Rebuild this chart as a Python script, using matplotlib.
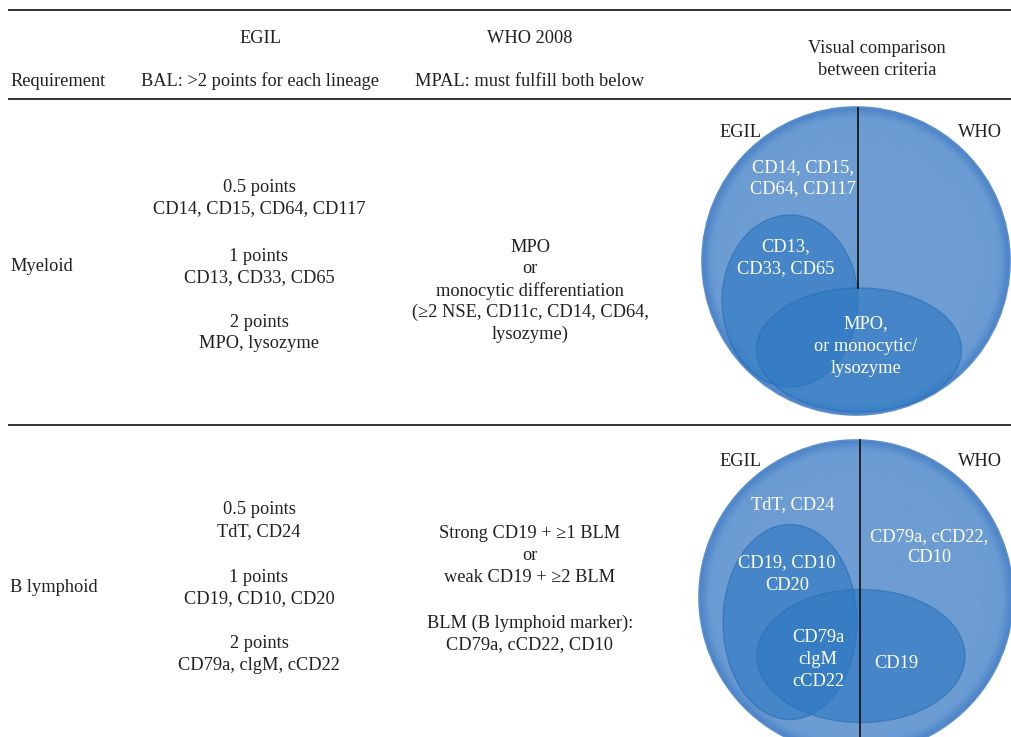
import numpy as np
import matplotlib
matplotlib.use("Agg")
import matplotlib.pyplot as plt
from matplotlib.patches import Circle, Ellipse
from matplotlib.colors import LinearSegmentedColormap

plt.rcParams['font.family'] = ['Liberation Serif', 'DejaVu Serif']

# table text
header_top = ["EGIL", "WHO 2008"]
header_bottom = ["Requirement", "BAL: >2 points for each lineage", "MPAL: must fulfill both below"]
header_visual = ["Visual comparison", "between criteria"]

rows = ["Myeloid", "B lymphoid"]

egil_myeloid = [["0.5 points", "CD14, CD15, CD64, CD117"],
                ["1 points", "CD13, CD33, CD65"],
                ["2 points", "MPO, lysozyme"]]
who_myeloid = ["MPO", "or", "monocytic differentiation",
               "(\u22652 NSE, CD11c, CD14, CD64,", "lysozyme)"]

egil_lymph = [["0.5 points", "TdT, CD24"],
              ["1 points", "CD19, CD10, CD20"],
              ["2 points", "CD79a, clgM, cCD22"]]
who_lymph = [["Strong CD19 + \u22651 BLM", "or", "weak CD19 + \u22652 BLM"],
             ["BLM (B lymphoid marker):", "CD79a, cCD22, CD10"]]

# labels inside the circles
venn_myeloid = {"egil_outer": ["CD14, CD15,", "CD64, CD117"],
                "egil_inner": ["CD13,", "CD33, CD65"],
                "shared": ["MPO,", "or monocytic/", "lysozyme"]}
venn_lymph = {"egil_outer": ["TdT, CD24"],
              "who_outer": ["CD79a, cCD22,", "CD10"],
              "egil_inner": ["CD19, CD10", "CD20"],
              "shared": ["CD79a", "clgM", "cCD22"],
              "who_inner": ["CD19"]}

W, H = 1012, 737
fig = plt.figure(figsize=(W / 100, H / 100), dpi=100)
ax = fig.add_axes([0, 0, 1, 1])
ax.set_xlim(0, W)
ax.set_ylim(H, 0)
ax.axis('off')

txt = '#231f20'
fs = 13.2


def lines(x, y0, items, dy=21.5, **kw):
    for i, s in enumerate(items):
        ax.text(x, y0 + i * dy, s, ha='center', va='center', fontsize=fs, color=kw.get('color', txt))


# rules
for y in [10, 99, 425]:
    ax.plot([8, W], [y, y], color='#333333', lw=1.4, solid_capstyle='butt')

# header
ax.text(260, 38, header_top[0], ha='center', va='center', fontsize=fs, color=txt)
ax.text(530, 38, header_top[1], ha='center', va='center', fontsize=fs, color=txt)
ax.text(10, 81, header_bottom[0], ha='left', va='center', fontsize=fs, color=txt)
ax.text(260, 81, header_bottom[1], ha='center', va='center', fontsize=fs, color=txt)
ax.text(530, 81, header_bottom[2], ha='center', va='center', fontsize=fs, color=txt)
lines(877, 48, header_visual, dy=22)

# myeloid row
ax.text(10, 266, rows[0], ha='left', va='center', fontsize=fs, color=txt)
for y0, grp in zip([187, 256, 322], egil_myeloid):
    lines(259, y0, grp)
lines(530, 247, who_myeloid, dy=21.8)

# lymphoid row
ax.text(10, 588, rows[1], ha='left', va='center', fontsize=fs, color=txt)
for y0, grp in zip([510, 577, 644], egil_lymph):
    lines(259, y0, grp)
lines(530, 533, who_lymph[0], dy=22.5)
lines(530, 623, who_lymph[1], dy=21.5)

# venn style circles
cmap = LinearSegmentedColormap.from_list('rim', ['#6d9dd3', '#699bd2', '#4a82c8'])


def outer_circle(cx, cy, r):
    c = Circle((cx, cy), r, facecolor='none', edgecolor='#5a8fcd', lw=1.2, zorder=3)
    ax.add_patch(c)
    xs = np.linspace(cx - r, cx + r, 400)
    ys = np.linspace(cy - r, cy + r, 400)
    X, Y = np.meshgrid(xs, ys)
    d = np.sqrt((X - cx) ** 2 + (Y - cy) ** 2) / r
    v = np.clip((d - 0.8) / 0.2, 0, 1) ** 1.8
    im = ax.imshow(v, cmap=cmap, extent=(cx - r, cx + r, cy + r, cy - r),
                   origin='upper', vmin=0, vmax=1, zorder=2, interpolation='bilinear')
    clip = Circle((cx, cy), r, transform=ax.transData)
    im.set_clip_path(clip)
    ax.set_xlim(0, W)
    ax.set_ylim(H, 0)


def inner_ellipse(cx, cy, w, h):
    e = Ellipse((cx, cy), w, h, facecolor='#2c78c2', alpha=0.6,
                edgecolor='#2a6cb3', lw=1.0, zorder=4)
    ax.add_patch(e)


# myeloid circle
outer_circle(856, 261, 154)
inner_ellipse(790, 301, 136, 172)
inner_ellipse(859, 350, 205, 124)
ax.plot([858, 858], [108, 288], color='#1a1a1a', lw=1.3, zorder=5)
ax.text(740, 132, "EGIL", ha='center', va='center', fontsize=fs, color=txt, zorder=6)
ax.text(980, 132, "WHO", ha='center', va='center', fontsize=fs, color=txt, zorder=6)
for i, s in enumerate(venn_myeloid["egil_outer"]):
    ax.text(803, 168 + i * 21, s, ha='center', va='center', fontsize=fs, color='white', zorder=6)
for i, s in enumerate(venn_myeloid["egil_inner"]):
    ax.text(786, 247 + i * 22, s, ha='center', va='center', fontsize=fs, color='white', zorder=6)
for i, s in enumerate(venn_myeloid["shared"]):
    ax.text(866, 324 + i * 22, s, ha='center', va='center', fontsize=fs, color='white', zorder=6)

# lymphoid circle
outer_circle(856, 597, 157)
inner_ellipse(790, 622, 134, 195)
inner_ellipse(861, 656, 208, 133)
ax.plot([860, 860], [440, H], color='#1a1a1a', lw=1.3, zorder=5)
ax.text(740, 461, "EGIL", ha='center', va='center', fontsize=fs, color=txt, zorder=6)
ax.text(980, 461, "WHO", ha='center', va='center', fontsize=fs, color=txt, zorder=6)
ax.text(793, 505, venn_lymph["egil_outer"][0], ha='center', va='center', fontsize=fs, color='white', zorder=6)
for i, s in enumerate(venn_lymph["who_outer"]):
    ax.text(929, 537 + i * 21, s, ha='center', va='center', fontsize=fs, color='white', zorder=6)
for i, s in enumerate(venn_lymph["egil_inner"]):
    ax.text(787, 563 + i * 22, s, ha='center', va='center', fontsize=fs, color='white', zorder=6)
for i, s in enumerate(venn_lymph["shared"]):
    ax.text(818, 638 + i * 22, s, ha='center', va='center', fontsize=fs, color='white', zorder=6)
ax.text(896, 663, venn_lymph["who_inner"][0], ha='center', va='center', fontsize=fs, color='white', zorder=6)

fig.savefig("out.png", dpi=100)
